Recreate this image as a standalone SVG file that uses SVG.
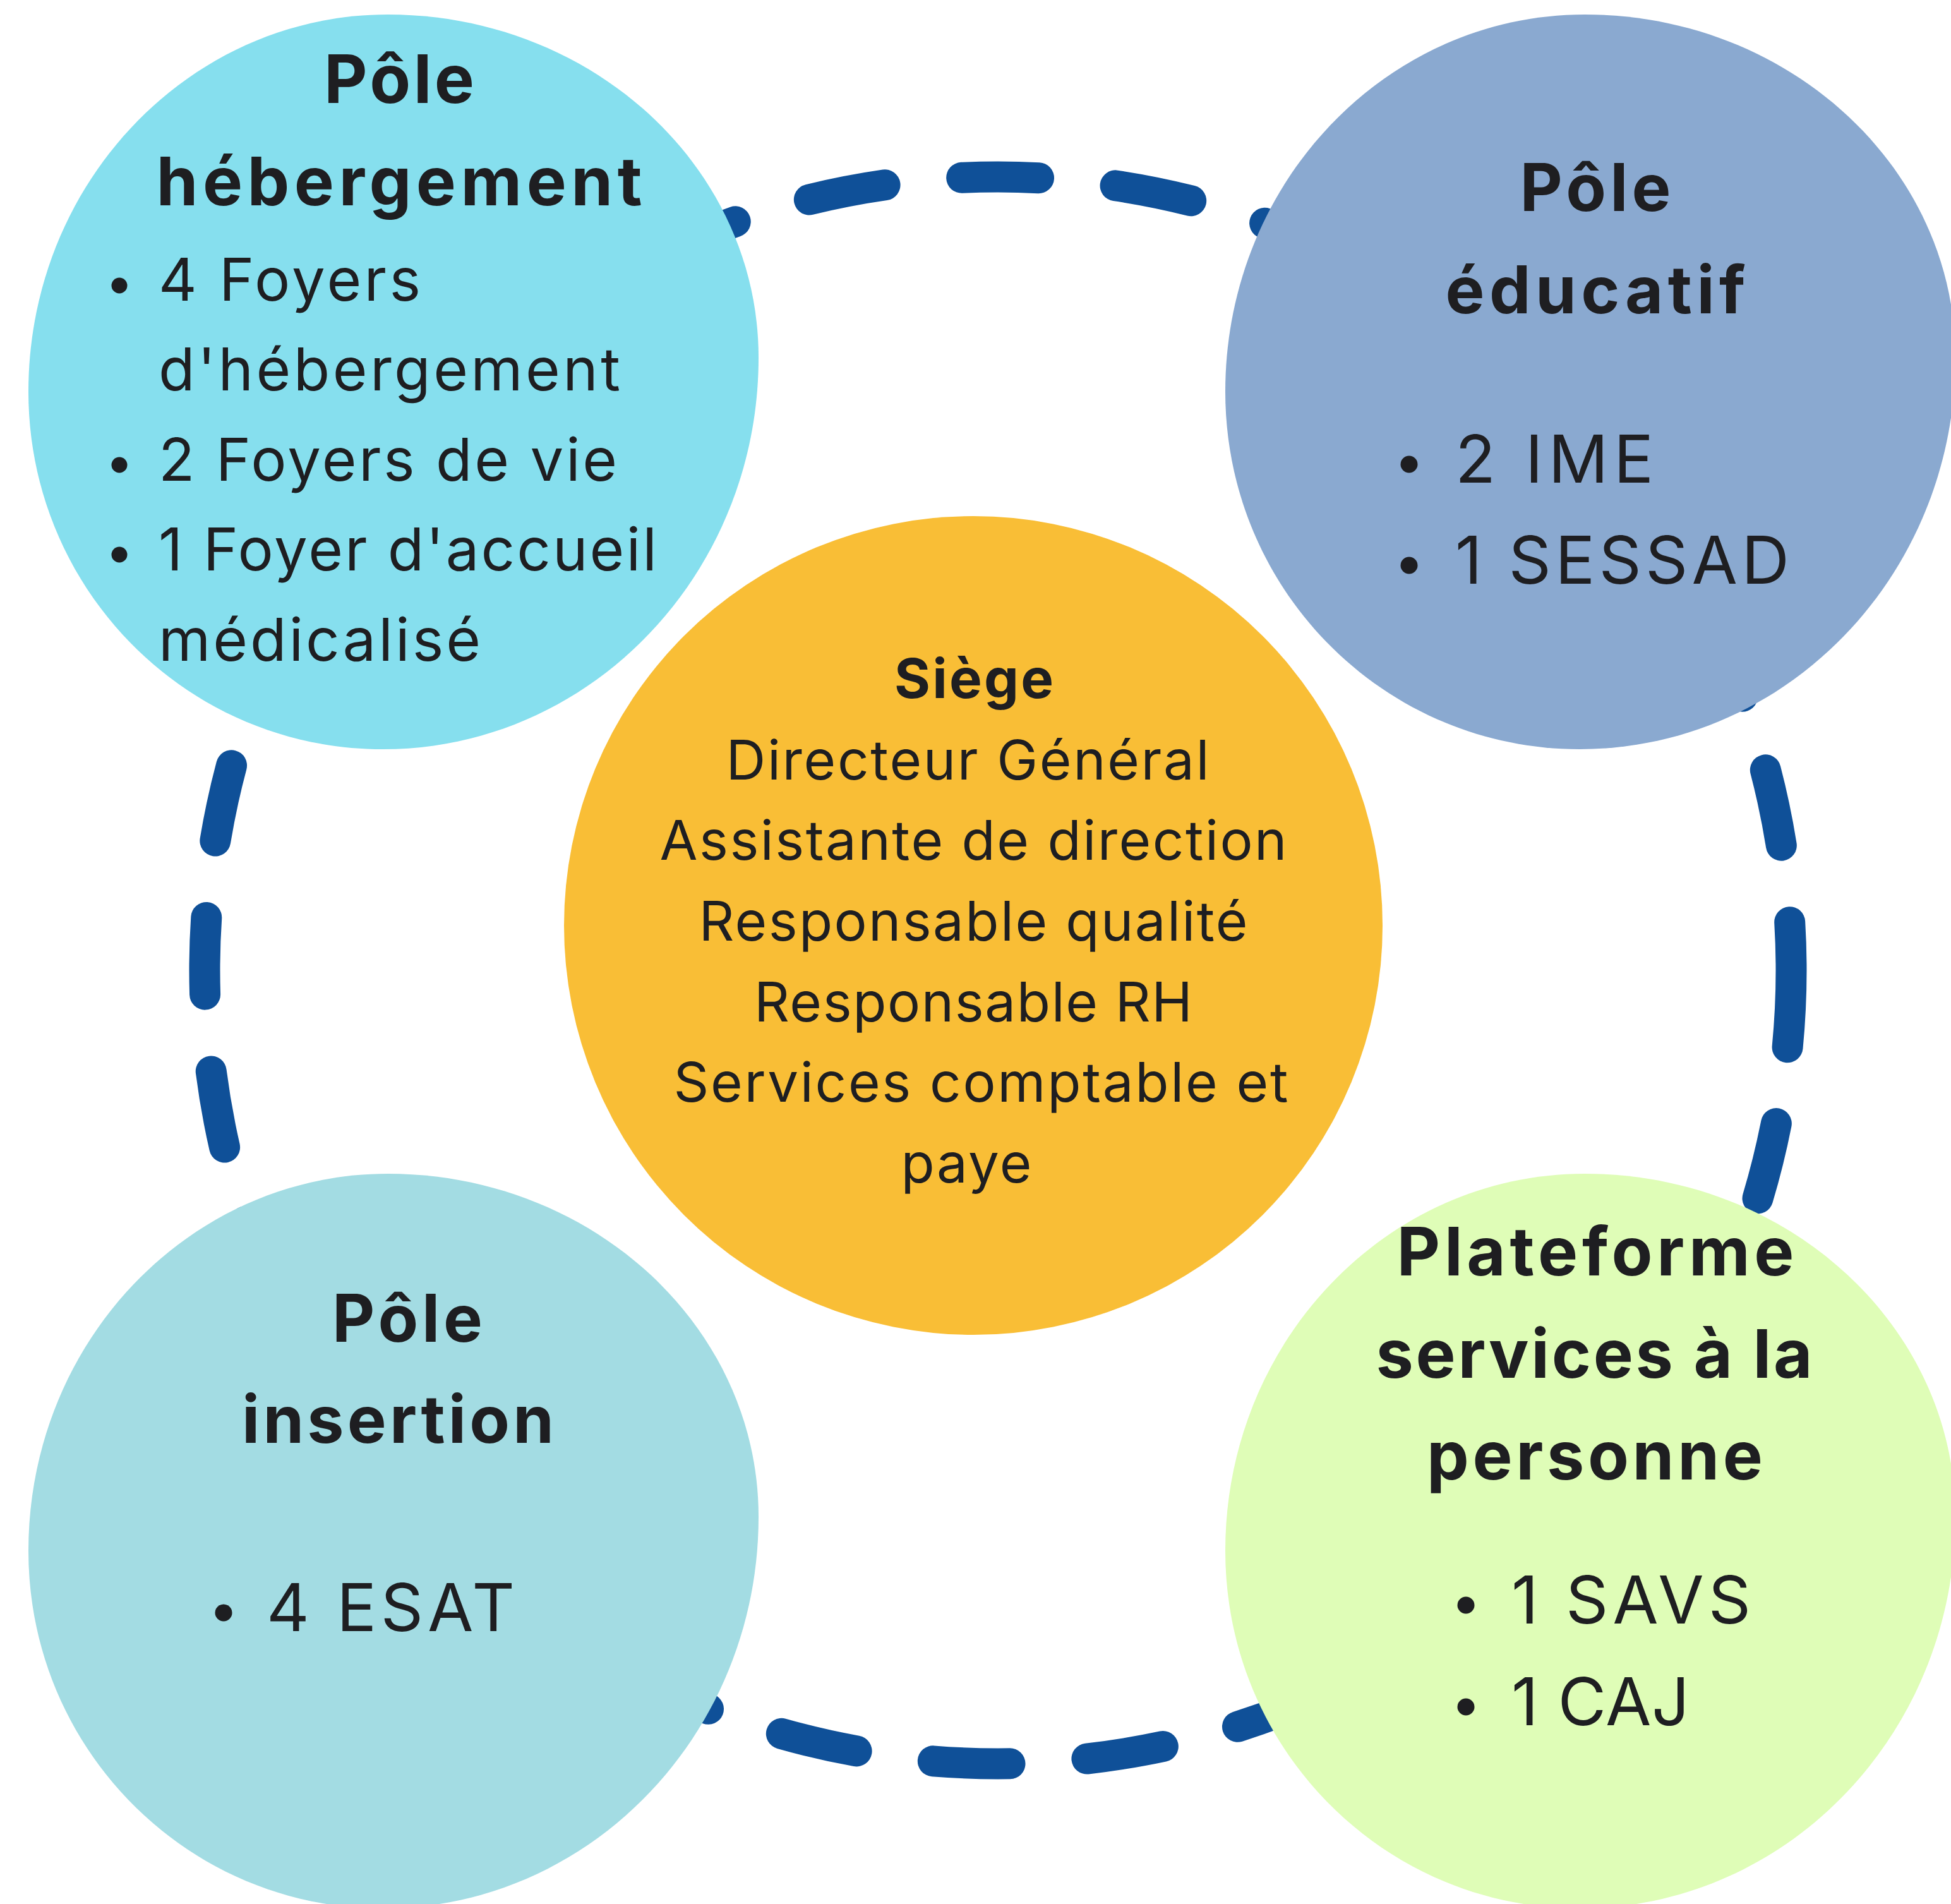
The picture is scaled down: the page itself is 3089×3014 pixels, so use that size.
<svg xmlns="http://www.w3.org/2000/svg" width="3089" height="3014" viewBox="0 0 3089 3014">
  <style>
    .ring { fill: none; stroke: #0F5098; stroke-width: 49; stroke-linecap: round; stroke-dasharray: 122 122.2; }
    .h { font-family: Inter, "Liberation Sans", sans-serif; font-weight: 700; fill: #1E1E21; text-anchor: middle; }
    .b { font-family: Inter, "Liberation Sans", sans-serif; font-weight: 400; fill: #1E1E21; }
    .c { font-family: Inter, "Liberation Sans", sans-serif; font-weight: 400; fill: #1E1E21; text-anchor: middle; }
    .dot { fill: #1E1E21; }
  </style>
  <defs>
    <path id="blob" d="M 614 23 C 938 23, 1201 266, 1201 566 C 1201 908, 935 1186, 606 1186 C 296 1186, 45 933, 45 620 C 45 290, 300 23, 614 23 Z"/>
  </defs>
  <rect width="3089" height="3014" fill="#FFFFFF"/>

  <g id="connectors">
    <path class="ring" d="M 2836 1536 A 1256 1256 0 0 1 324 1536 A 1256 1256 0 0 1 2836 1536"/>
  </g>

  <g id="pole-hebergement">
    <use href="#blob" fill="#86DFEE"/>
    <text class="h" font-size="106" x="632" y="163" textLength="238" lengthAdjust="spacing">Pôle</text>
    <text class="h" font-size="106" x="632" y="325" textLength="769" lengthAdjust="spacing">hébergement</text>
    <circle class="dot" cx="189" cy="452" r="12.5"/>
    <text class="b" font-size="94" x="251" y="476" textLength="415" lengthAdjust="spacing">4 Foyers</text>
    <text class="b" font-size="94" x="251" y="618" textLength="731" lengthAdjust="spacing">d'hébergement</text>
    <circle class="dot" cx="189" cy="736" r="12.5"/>
    <text class="b" font-size="94" x="251" y="761" textLength="726" lengthAdjust="spacing">2 Foyers de vie</text>
    <circle class="dot" cx="189" cy="878" r="12.5"/>
    <text class="b" font-size="94" x="251" y="903" textLength="789" lengthAdjust="spacing">1 Foyer d'accueil</text>
    <text class="b" font-size="94" x="251" y="1046" textLength="510" lengthAdjust="spacing">médicalisé</text>
  </g>

  <g id="pole-educatif">
    <use href="#blob" transform="translate(1895,0)" fill="#8AA9D0"/>
    <text class="h" font-size="104" x="2526" y="334" textLength="239" lengthAdjust="spacing">Pôle</text>
    <text class="h" font-size="104" x="2526" y="496" textLength="475" lengthAdjust="spacing">éducatif</text>
    <circle class="dot" cx="2231" cy="735" r="13.5"/>
    <text class="b" font-size="105" x="2304" y="764" textLength="314" lengthAdjust="spacing">2 IME</text>
    <circle class="dot" cx="2231" cy="895" r="13.5"/>
    <text class="b" font-size="105" x="2304" y="924" textLength="529" lengthAdjust="spacing">1 SESSAD</text>
  </g>

  <g id="pole-insertion">
    <use href="#blob" transform="translate(0,1835)" fill="#A3DCE3"/>
    <text class="h" font-size="104" x="645" y="2124" textLength="238" lengthAdjust="spacing">Pôle</text>
    <text class="h" font-size="104" x="630" y="2284" textLength="494" lengthAdjust="spacing">insertion</text>
    <circle class="dot" cx="354" cy="2553" r="13.5"/>
    <text class="b" font-size="105" x="422" y="2582" textLength="393" lengthAdjust="spacing">4 ESAT</text>
  </g>

  <g id="plateforme-services">
    <use href="#blob" transform="translate(1895,1835)" fill="#DFFDB7"/>
    <text class="h" font-size="106" x="2526" y="2019" textLength="629" lengthAdjust="spacing">Plateforme</text>
    <text class="h" font-size="106" x="2524" y="2181" textLength="691" lengthAdjust="spacing">services à la</text>
    <text class="h" font-size="106" x="2525" y="2342" textLength="532" lengthAdjust="spacing">personne</text>
    <circle class="dot" cx="2321" cy="2541" r="13.5"/>
    <text class="b" font-size="105" x="2393" y="2570" textLength="379" lengthAdjust="spacing">1 SAVS</text>
    <circle class="dot" cx="2321" cy="2702" r="13.5"/>
    <text class="b" font-size="105" x="2393" y="2731" textLength="282" lengthAdjust="spacing">1 CAJ</text>
  </g>

  <g id="siege">
    <circle cx="1541" cy="1465" r="648" fill="#F9BE36"/>
    <text class="h" font-size="87" x="1542" y="1105" textLength="252" lengthAdjust="spacing">Siège</text>
    <text class="c" font-size="87" x="1532" y="1234" textLength="765" lengthAdjust="spacing">Directeur Général</text>
    <text class="c" font-size="87" x="1541" y="1361" textLength="993" lengthAdjust="spacing">Assistante de direction</text>
    <text class="c" font-size="87" x="1541" y="1489" textLength="869" lengthAdjust="spacing">Responsable qualité</text>
    <text class="c" font-size="87" x="1541" y="1617" textLength="694" lengthAdjust="spacing">Responsable RH</text>
    <text class="c" font-size="87" x="1553" y="1744" textLength="973" lengthAdjust="spacing">Services comptable et</text>
    <text class="c" font-size="87" x="1530" y="1872" textLength="207" lengthAdjust="spacing">paye</text>
  </g>
</svg>
